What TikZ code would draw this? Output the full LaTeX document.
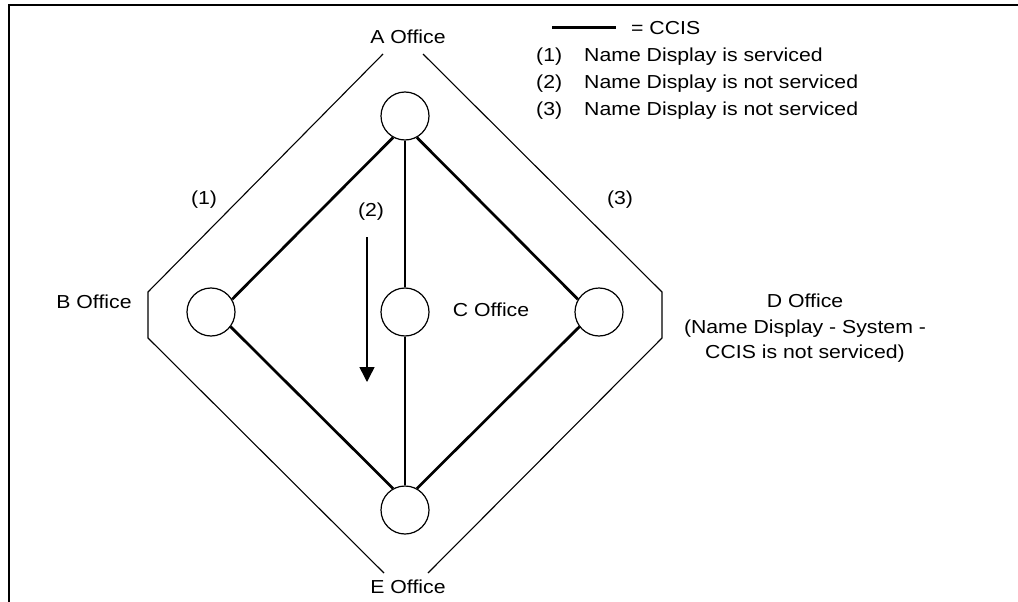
\documentclass[tikz,border=0pt]{standalone}
\usepackage{fontspec}
\setmainfont{Liberation Sans}[FakeStretch=1.13]
\usetikzlibrary{arrows.meta}
\begin{document}
\begin{tikzpicture}[x=1pt,y=-1pt,
  office/.style={circle,draw,line width=1.2pt,minimum size=48pt,inner sep=0pt},
  ccis/.style={line width=2.7pt},
  ring/.style={line width=1.1pt},
  lbl/.style={inner sep=0pt,anchor=base,font=\fontsize{18.8}{25.5}\selectfont},
  lgd/.style={lbl,anchor=base west},
  frame/.style={line width=2pt}]
\useasboundingbox (0,0) rectangle (1018,602);
% frame
\coordinate (f1) at (8.5,602);
\coordinate (f2) at (8.5,5);
\coordinate (f3) at (1018,5);
\draw[frame] (f1) -- (f2) -- (f3);
% offices
\node[office] (A) at (405,116) {};
\node[office] (B) at (211,312) {};
\node[office] (C) at (405,312) {};
\node[office] (D) at (599,312) {};
\node[office] (E) at (405,510) {};
% CCIS links
\draw[ccis] (A.241) -- (B.31);
\draw[ccis] (A.299) -- (D.149);
\draw[ccis] (A.south) -- (C.north);
\draw[ccis] (C.south) -- (E.north);
\draw[ccis] (B.323) -- (E.119);
\draw[ccis] (D.217) -- (E.61);
% outer ring
\coordinate (h1) at (383,54);
\coordinate (h2) at (148,292);
\coordinate (h3) at (148,338);
\coordinate (h4) at (384,573);
\coordinate (h5) at (423,54);
\coordinate (h6) at (662,292);
\coordinate (h7) at (662,338);
\coordinate (h8) at (428,573);
\draw[ring] (h1) -- (h2) -- (h3) -- (h4);
\draw[ring] (h5) -- (h6) -- (h7) -- (h8);
% arrow (2)
\coordinate (ar1) at (367,237);
\coordinate (ar2) at (367,382);
\draw[line width=1.5pt,-{Triangle[length=15pt,width=15pt]}] (ar1) -- (ar2);
% labels
\node[lbl] (lA) at (408,43.5) {A Office};
\node[lbl] (lE) at (408,593) {E Office};
\node[lbl] (lB) at (94,308) {B Office};
\node[lbl] (lC) at (491,316) {C Office};
\node[lbl] (lD1) at (805,307) {D Office};
\node[lbl] (lD2) at (805,333) {(Name Display - System -};
\node[lbl] (lD3) at (805,358) {CCIS is not serviced)};
\node[lbl] (n1) at (204,204) {(1)};
\node[lbl] (n2) at (371,216) {(2)};
\node[lbl] (n3) at (620,204) {(3)};
% legend
\coordinate (l1) at (552,27.5);
\coordinate (l2) at (616,27.5);
\draw[ccis] (l1) -- (l2);
\node[lgd] (eq) at (631,35) {= CCIS};
\node[lgd] (k1) at (536,61.5) {(1)};
\node[lgd] (t1) at (584,61.5) {Name Display is serviced};
\node[lgd] (k2) at (536,88.5) {(2)};
\node[lgd] (t2) at (584,88.5) {Name Display is not serviced};
\node[lgd] (k3) at (536,115) {(3)};
\node[lgd] (t3) at (584,115) {Name Display is not serviced};
\end{tikzpicture}
\end{document}
